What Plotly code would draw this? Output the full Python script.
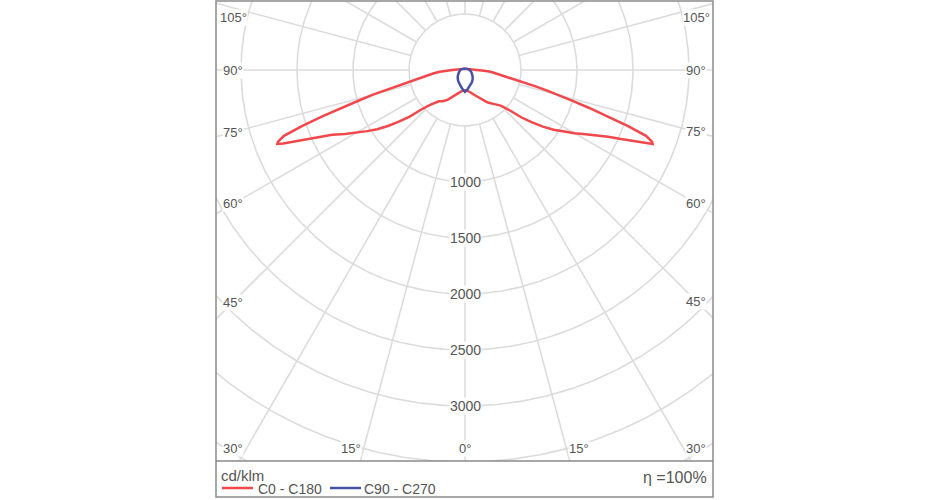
import numpy as np
import plotly.graph_objects as go

# ---------------- data (cd/klm) ----------------
gamma = [0, 5, 10, 15, 20, 25, 30, 35, 40, 45, 48, 50, 52, 54, 56, 58, 60, 62, 64, 65,
         66, 67, 68, 68.5, 69, 70, 71, 72, 73, 74, 75, 76, 77, 78, 80, 82, 84, 86, 88,
         90, 92, 95, 100, 110, 130, 180]
I_C0 = [180, 183, 192, 210, 235, 265, 310, 355, 395, 450, 540, 660, 760, 860, 955, 1040,
        1130, 1220, 1330, 1410, 1510, 1620, 1750, 1800, 1790, 1720, 1540, 1340, 1160, 1000,
        870, 750, 640, 545, 420, 340, 290, 230, 170, 115, 90, 70, 50, 30, 18, 12]
I_C180 = [180, 184, 194, 212, 238, 268, 305, 340, 365, 440, 530, 650, 750, 850, 945, 1030,
          1120, 1215, 1320, 1410, 1510, 1620, 1750, 1800, 1790, 1720, 1540, 1340, 1150, 980,
          850, 720, 600, 510, 400, 330, 280, 225, 170, 115, 90, 70, 50, 30, 18, 12]

gamma_c90 = [0, 5, 10, 20, 30, 40, 50, 60, 70, 80, 90, 100, 120, 150, 180]
I_C90 = [196, 180, 165, 140, 124, 106, 88, 72, 60, 50, 42, 34, 20, 12, 10]
I_C270 = [196, 180, 163, 136, 118, 100, 84, 68, 56, 48, 42, 34, 20, 12, 10]

ring_values = [500, 1000, 1500, 2000, 2500, 3000, 3500, 4000, 4500, 5000]
ring_labels = ["1000", "1500", "2000", "2500", "3000"]
angle_ticks = [0, 15, 30, 45, 60, 75, 90, 105]
series_names = ["C0 - C180", "C90 - C270"]
unit_text = "cd/klm"
eta_text = "η =100%"

# ---------------- layout geometry ----------------
W, H = 930, 500
L, R, T, B = 216, 713, 1, 461          # plot box in pixels
CX, CY = 465, 70                       # pole position in pixels
K = 500 / 56.0                         # cd/klm per pixel
xr = [-(CX - L) * K, (R - CX) * K]
yr = [-(B - CY) * K, (CY - T) * K]

RED = "#f2474b"
BLUE = "#4553a6"
GRID = "#dcdcdc"
TXT = "#555555"
FONT = "Liberation Sans, Arial, sans-serif"


def half_plane(g, I, sign):
    g = np.radians(np.asarray(g, float))
    I = np.asarray(I, float)
    return sign * I * np.sin(g), -I * np.cos(g)


fig = go.Figure()

# grid rings
t = np.linspace(0, 2 * np.pi, 721)
gx, gy = [], []
for r in ring_values:
    gx += list(r * np.cos(t)) + [None]
    gy += list(r * np.sin(t)) + [None]
# radial spokes every 15 degrees, from the first ring outwards
for a in range(0, 360, 15):
    ar = np.radians(a)
    gx += [500 * np.sin(ar), 8000 * np.sin(ar), None]
    gy += [-500 * np.cos(ar), -8000 * np.cos(ar), None]
fig.add_trace(go.Scatter(x=gx, y=gy, mode="lines", line=dict(color=GRID, width=1.6),
                         hoverinfo="skip", showlegend=False))

# C0 - C180
x0, y0 = half_plane(gamma, I_C0, 1)
x1, y1 = half_plane(gamma, I_C180, -1)
fig.add_trace(go.Scatter(x=list(x1[::-1]) + list(x0), y=list(y1[::-1]) + list(y0),
                         mode="lines", line=dict(color=RED, width=2.5),
                         name=series_names[0], showlegend=False))
# C90 - C270
x2, y2 = half_plane(gamma_c90, I_C90, 1)
x3, y3 = half_plane(gamma_c90, I_C270, -1)
fig.add_trace(go.Scatter(x=list(x3[::-1]) + list(x2), y=list(y3[::-1]) + list(y2),
                         mode="lines", line=dict(color=BLUE, width=2.5, shape="spline"),
                         name=series_names[1], showlegend=False))


def px(x):
    return (x - L) / (R - L)


def py(y):
    return (B - y) / (B - T)


ann = []
# ring value labels on the 0 degree axis
for s in ring_labels:
    v = float(s)
    ann.append(dict(x=0, y=-v, xref="x", yref="y", text=s, showarrow=False,
                    font=dict(family=FONT, size=14, color=TXT), bgcolor="white",
                    borderpad=0, xanchor="center", yanchor="middle"))

# angle labels, placed where each spoke meets an inset box
inset_x, top_y, bot_y, out_off = 17, 17, 448, 9
for a in angle_ticks:
    ar = np.radians(a)
    if a == 0:
        pos = [(CX, bot_y)]
    else:
        sx, cy_ = np.sin(ar), np.cos(ar)
        pos = []
        for side in (-1, 1):
            ex = (L + inset_x) if side < 0 else (R - inset_x)
            d = abs(ex - CX)
            yy = CY + d * cy_ / sx
            if yy > bot_y:
                d_b = (B - CY) * sx / cy_ + out_off
                yy = bot_y
                if d_b < d:
                    ex = CX + side * d_b
            yy = max(yy, top_y)
            pos.append((ex, yy))
    for (ex, yy) in pos:
        ann.append(dict(x=px(ex), y=py(yy), xref="paper", yref="paper", text=f"{a}°",
                        showarrow=False, font=dict(family=FONT, size=13, color=TXT),
                        bgcolor="white", borderpad=0, xanchor="center", yanchor="middle"))

# footer texts
ann.append(dict(x=px(219), y=py(475), xref="paper", yref="paper", text=unit_text,
                showarrow=False, font=dict(family=FONT, size=15, color=TXT),
                xanchor="left", yanchor="middle"))
ann.append(dict(x=px(709), y=py(477), xref="paper", yref="paper", text=eta_text,
                showarrow=False, font=dict(family=FONT, size=16, color=TXT),
                xanchor="right", yanchor="middle"))
ann.append(dict(x=px(256), y=py(489), xref="paper", yref="paper", text=series_names[0],
                showarrow=False, font=dict(family=FONT, size=14, color=TXT),
                xanchor="left", yanchor="middle"))
ann.append(dict(x=px(362), y=py(489), xref="paper", yref="paper", text=series_names[1],
                showarrow=False, font=dict(family=FONT, size=14, color=TXT),
                xanchor="left", yanchor="middle"))

shapes = [
    dict(type="rect", xref="paper", yref="paper", x0=px(216), x1=px(713), y0=py(497), y1=py(1),
         line=dict(color="#8a8a8a", width=1.5)),
    dict(type="line", xref="paper", yref="paper", x0=px(216), x1=px(713), y0=py(461), y1=py(461),
         line=dict(color="#8a8a8a", width=1.5)),
    dict(type="line", xref="paper", yref="paper", x0=px(222), x1=px(253), y0=py(488), y1=py(488),
         line=dict(color=RED, width=2.5)),
    dict(type="line", xref="paper", yref="paper", x0=px(330), x1=px(361), y0=py(488), y1=py(488),
         line=dict(color=BLUE, width=2.5)),
]

fig.update_layout(
    width=W, height=H,
    margin=dict(l=L, r=W - R, t=T, b=H - B, pad=0),
    paper_bgcolor="white", plot_bgcolor="white",
    xaxis=dict(range=xr, visible=False, fixedrange=True),
    yaxis=dict(range=yr, visible=False, fixedrange=True),
    annotations=ann, shapes=shapes, showlegend=False, hovermode=False,
)

fig.write_html("out.html", config={"displayModeBar": False},
               post_script="document.body.style.margin='0px';document.body.style.overflow='hidden';")
